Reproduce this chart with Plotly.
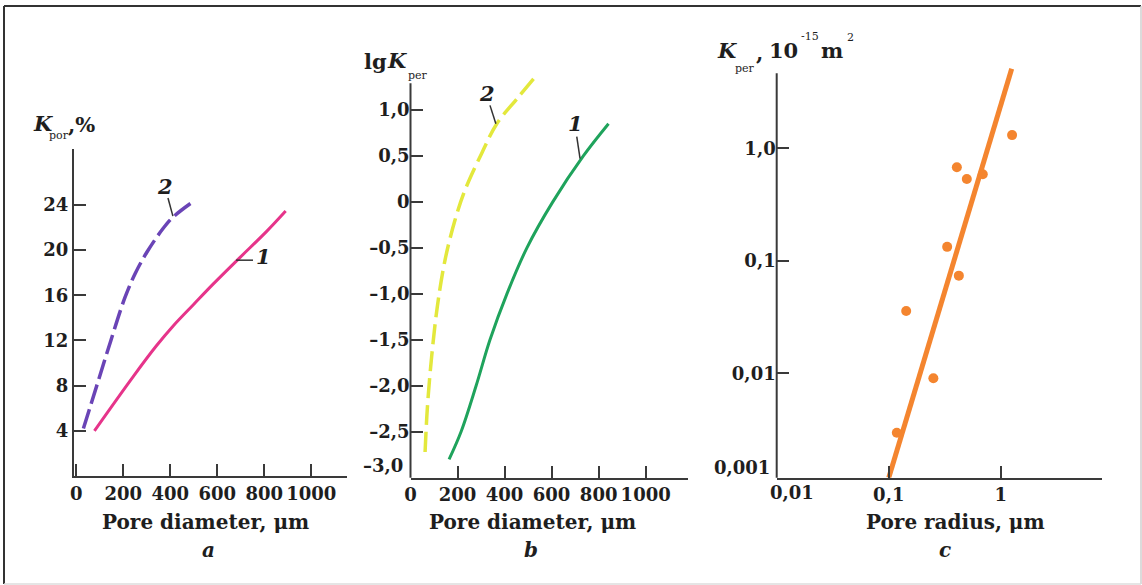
import plotly.graph_objects as go

W, H = 1142, 585

# ---- panel a: porosity vs pore diameter ----
a1_d = [77, 242, 340, 413, 500, 583, 697, 810, 891]
a1_k = [4.0, 8.8, 11.5, 13.3, 15.2, 17.0, 19.35, 21.65, 23.45]
a2_d = [30, 87, 147, 207, 250, 300, 369, 411, 498]
a2_k = [4.2, 8.0, 12.0, 15.8, 17.9, 19.8, 21.9, 22.9, 24.3]
a_xticks = [0, 200, 400, 600, 800, 1000]
a_yticks = [4, 8, 12, 16, 20, 24]

# ---- panel b: lg permeability vs pore diameter ----
b1_d = [164, 215, 279, 338, 410, 495, 605, 735, 842]
b1_lgk = [-2.80, -2.50, -2.00, -1.50, -1.00, -0.50, 0.00, 0.50, 0.85]
b2_d = [62, 72, 90, 114, 147, 189, 232, 303, 367, 452, 537]
b2_lgk = [-2.72, -2.23, -1.68, -1.14, -0.63, -0.20, 0.13, 0.53, 0.85, 1.12, 1.38]
b_xticks = [0, 200, 400, 600, 800, 1000]
b_yticks = [-2.5, -2.0, -1.5, -1.0, -0.5, 0, 0.5, 1.0]
b_yticklabels = ["–2,5", "–2,0", "–1,5", "–1,0", "–0,5", "0", "0,5", "1,0"]

# ---- panel c: permeability vs pore radius (log-log) ----
c_r = [0.118, 0.143, 0.250, 0.332, 0.422, 0.405, 0.497, 0.690, 1.26]
c_k = [0.00296, 0.0358, 0.00903, 0.133, 0.0738, 0.678, 0.533, 0.587, 1.31]
c_fit_r = [0.1, 1.25]
c_fit_k = [0.00118, 5.1]
c_xticks = [0.1, 1]
c_xticklabels = ["0,1", "1"]
c_yticks = [0.01, 0.1, 1.0]
c_yticklabels = ["0,01", "0,1", "1,0"]

PINK = "#e6348a"
PURPLE = "#6a44b6"
GREEN = "#1fa35c"
YELLOW = "#e3e83c"
ORANGE = "#f4852f"
INK = "#1e1e1e"
AXIS = "#3a3a3a"
FONT = "DejaVu Serif"


def px(x):
    return x / W


def py(y):
    return 1 - y / H


fig = go.Figure()

fig.add_trace(go.Scatter(x=a1_d, y=a1_k, mode="lines", line=dict(color=PINK, width=3, shape="spline"),
                         xaxis="x", yaxis="y"))
fig.add_trace(go.Scatter(x=a2_d, y=a2_k, mode="lines",
                         line=dict(color=PURPLE, width=3.5, shape="spline", dash="20px,6px"),
                         xaxis="x", yaxis="y"))
fig.add_trace(go.Scatter(x=b1_d, y=b1_lgk, mode="lines", line=dict(color=GREEN, width=3, shape="spline"),
                         xaxis="x2", yaxis="y2"))
fig.add_trace(go.Scatter(x=b2_d, y=b2_lgk, mode="lines",
                         line=dict(color=YELLOW, width=3.5, shape="spline", dash="20px,7px"),
                         xaxis="x2", yaxis="y2"))
fig.add_trace(go.Scatter(x=c_fit_r, y=c_fit_k, mode="lines", line=dict(color=ORANGE, width=5),
                         xaxis="x3", yaxis="y3"))
fig.add_trace(go.Scatter(x=c_r, y=c_k, mode="markers", marker=dict(color=ORANGE, size=10),
                         xaxis="x3", yaxis="y3"))

tickfont = dict(family=FONT, size=18, color=INK, weight="bold")
common = dict(showgrid=False, zeroline=False, ticks="inside", ticklen=12, tickwidth=1.5,
              tickcolor=AXIS, tickfont=tickfont, tickangle=0, fixedrange=True, automargin=False)

fig.update_layout(
    width=W, height=H,
    margin=dict(l=0, r=0, t=0, b=0, autoexpand=False),
    paper_bgcolor="white", plot_bgcolor="white",
    showlegend=False,
    xaxis=dict(domain=[px(74), px(347)], range=[-10, 1152], anchor="y",
               tickvals=a_xticks, ticktext=[str(v) for v in a_xticks],
               showline=True, linecolor=AXIS, linewidth=2, **common),
    yaxis=dict(domain=[py(476), py(149)], range=[0, 28.94], anchor="x",
               tickvals=a_yticks, ticktext=[str(v) for v in a_yticks],
               showline=True, linecolor=AXIS, linewidth=2, **common),
    xaxis2=dict(domain=[px(410.5), px(688)], range=[0, 1180], anchor="y2",
                tickvals=b_xticks, ticktext=[str(v) for v in b_xticks],
                showline=True, linecolor=AXIS, linewidth=2, **common),
    yaxis2=dict(domain=[py(477.7), py(73.2)], range=[-3.0, 1.4], anchor="x2",
                tickvals=b_yticks, ticktext=b_yticklabels, showline=False, **common),
    xaxis3=dict(domain=[px(776.7), px(1101.7)], type="log", range=[-2, 0.9], anchor="y3",
                tickvals=c_xticks, ticktext=c_xticklabels,
                showline=True, linecolor=AXIS, linewidth=2, **common),
    yaxis3=dict(domain=[py(477.7), py(67.3)], type="log", range=[-2.928, 0.72], anchor="x3",
                tickvals=c_yticks, ticktext=c_yticklabels, showline=False, **common),
)

shapes = []
# vertical axis lines of panels b and c (stop below the top of the plotting area)
shapes.append(dict(type="line", xref="paper", yref="paper", x0=px(410.5), x1=px(410.5),
                   y0=py(477.7), y1=py(83.3), line=dict(color=AXIS, width=2)))
shapes.append(dict(type="line", xref="paper", yref="paper", x0=px(776.7), x1=px(776.7),
                   y0=py(477.7), y1=py(73.3), line=dict(color=AXIS, width=2)))
# curve label leaders
leader = dict(color="#333333", width=1.5)
shapes.append(dict(type="line", xref="x", yref="y", x0=680, y0=19.1, x1=752, y1=19.1, line=leader))
shapes.append(dict(type="line", xref="x", yref="y", x0=390, y0=24.6, x1=411, y1=23.0, line=leader))
shapes.append(dict(type="line", xref="x2", yref="y2", x0=338, y0=1.05, x1=363, y1=0.85, line=leader))
shapes.append(dict(type="line", xref="x2", yref="y2", x0=707, y0=0.71, x1=721, y1=0.47, line=leader))
# outer frame
shapes.append(dict(type="line", xref="paper", yref="paper", x0=px(4), x1=px(1141), y0=py(6), y1=py(6),
                   line=dict(color="#333333", width=2)))
shapes.append(dict(type="line", xref="paper", yref="paper", x0=px(4), x1=px(4), y0=py(6), y1=py(584),
                   line=dict(color="#333333", width=2)))
shapes.append(dict(type="line", xref="paper", yref="paper", x0=px(1141), x1=px(1141), y0=py(6), y1=py(584),
                   line=dict(color="#cfcfcf", width=1.5)))
shapes.append(dict(type="line", xref="paper", yref="paper", x0=px(4), x1=px(1141), y0=py(584), y1=py(584),
                   line=dict(color="#dcdcdc", width=1.5)))
fig.update_layout(shapes=shapes)


def label(x, y, text, size=18, bold=True, italic=False, xanchor="center"):
    style = "italic" if italic else "normal"
    return dict(xref="paper", yref="paper", x=px(x), y=py(y), text=text, showarrow=False,
                xanchor=xanchor, yanchor="middle",
                font=dict(family=FONT, size=size, color=INK, weight="bold" if bold else "normal",
                          style=style))


ann = [
    # panel a
    label(43, 123, "K", size=21, italic=True),
    label(59, 135, "por", size=11, bold=False),
    label(82, 124, ",%", size=21),
    label(205, 522, "Pore diameter, μm", size=20),
    label(208, 550, "a", size=20, italic=True),
    label(263, 256, "1", size=21, italic=True),
    label(165, 187, "2", size=21, italic=True),
    # panel b
    label(376, 62, "lg", size=21),
    label(397, 61, "K", size=21, italic=True),
    label(418, 75, "per", size=11, bold=False),
    label(405, 465, "–3,0", size=18, xanchor="right"),
    label(532, 522, "Pore diameter, μm", size=20),
    label(531, 550, "b", size=20, italic=True),
    label(487, 93, "2", size=21, italic=True),
    label(575, 123, "1", size=21, italic=True),
    # panel c
    label(727, 50, "K", size=21, italic=True),
    label(745, 68, "per", size=11, bold=False),
    label(759, 52, ",", size=21),
    label(784, 50, "10", size=21),
    label(810, 36, "-15", size=11, bold=False),
    label(832, 50, "m", size=21),
    label(850, 37, "2", size=11, bold=False),
    label(772, 467, "0,001", size=18, xanchor="right"),
    label(792, 492, "0,01", size=18),
    label(955, 522, "Pore radius, μm", size=20),
    label(945, 550, "c", size=20, italic=True),
]
fig.update_layout(annotations=ann)

fig.write_html("out.html")
